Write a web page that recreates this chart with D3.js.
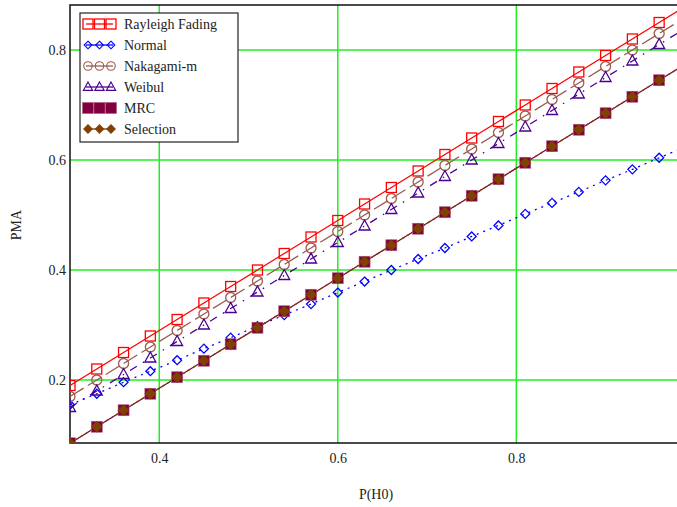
<!DOCTYPE html>
<html>
<head>
<meta charset="utf-8">
<script src="https://cdn.jsdelivr.net/npm/d3@7"></script>
<style>
  body { margin: 0; background: #fff; }
  svg { font-family: "Liberation Serif", "Times New Roman", serif; }
</style>
</head>
<body>
<div id="chart"></div>
<script>
// P(H0) values where points are plotted
const pH0 = [0.30, 0.33, 0.36, 0.39, 0.42, 0.45, 0.48, 0.51, 0.54, 0.57, 0.60, 0.63,
             0.66, 0.69, 0.72, 0.75, 0.78, 0.81, 0.84, 0.87, 0.90, 0.93, 0.96, 0.99];

const rayleigh = [0.19, 0.22, 0.25, 0.28, 0.31, 0.34, 0.37, 0.40, 0.43, 0.46, 0.49, 0.52,
                  0.55, 0.58, 0.61, 0.64, 0.67, 0.70, 0.73, 0.76, 0.79, 0.82, 0.85, 0.88];
const normal = [0.155, 0.175, 0.196, 0.216, 0.236, 0.257, 0.277, 0.298, 0.318, 0.338, 0.359, 0.379,
                0.400, 0.420, 0.440, 0.461, 0.481, 0.502, 0.522, 0.542, 0.563, 0.583, 0.604, 0.624];
const nakagami = [0.17, 0.20, 0.23, 0.26, 0.29, 0.32, 0.35, 0.38, 0.41, 0.44, 0.47, 0.50,
                  0.53, 0.56, 0.59, 0.62, 0.65, 0.68, 0.71, 0.74, 0.77, 0.80, 0.83, 0.86];
const weibul = [0.15, 0.18, 0.21, 0.24, 0.27, 0.30, 0.33, 0.36, 0.39, 0.42, 0.45, 0.48,
                0.51, 0.54, 0.57, 0.60, 0.63, 0.66, 0.69, 0.72, 0.75, 0.78, 0.81, 0.84];
const mrc = [0.085, 0.115, 0.145, 0.175, 0.205, 0.235, 0.265, 0.295, 0.325, 0.355, 0.385, 0.415,
             0.445, 0.475, 0.505, 0.535, 0.565, 0.595, 0.625, 0.655, 0.685, 0.715, 0.745, 0.775];
const selection = [0.085, 0.115, 0.145, 0.175, 0.205, 0.235, 0.265, 0.295, 0.325, 0.355, 0.385, 0.415,
                   0.445, 0.475, 0.505, 0.535, 0.565, 0.595, 0.625, 0.655, 0.685, 0.715, 0.745, 0.775];

const xTicks = [0.4, 0.6, 0.8];
const yTicks = [0.2, 0.4, 0.6, 0.8];

// series styling
const series = [
  { name: 'Rayleigh Fading', values: rayleigh, color: '#ff0000', dash: null, marker: 'square', fill: 'none' },
  { name: 'Normal', values: normal, color: '#0000ff', dash: '2,5', marker: 'diamond', fill: 'none' },
  { name: 'Nakagami-m', values: nakagami, color: '#9c5a50', dash: '16,5', marker: 'circle', fill: 'none' },
  { name: 'Weibul', values: weibul, color: '#4b0090', dash: '8,7,1.5,7', marker: 'triangle', fill: 'none' },
  { name: 'MRC', values: mrc, color: '#800040', dash: null, marker: 'bigsquare', fill: '#800040' },
  { name: 'Selection', values: selection, color: '#804000', dash: '3,3', marker: 'filldiamond', fill: '#804000' }
];

const W = 677, H = 507;
const plot = { left: 70, right: 677, top: 5, bottom: 443 };

const svg = d3.select('#chart').append('svg')
  .attr('width', W)
  .attr('height', H);

const x = d3.scaleLinear().domain([0.3, 0.98]).range([plot.left, plot.right]);
const y = d3.scaleLinear().domain([0.08545, 0.8818]).range([plot.bottom, plot.top]);

svg.append('clipPath').attr('id', 'clip')
  .append('rect')
  .attr('x', plot.left).attr('y', plot.top)
  .attr('width', plot.right - plot.left).attr('height', plot.bottom - plot.top);

// grid
const grid = svg.append('g');
grid.selectAll('.gx').data(xTicks).enter().append('line')
  .attr('x1', d => x(d)).attr('x2', d => x(d))
  .attr('y1', plot.top).attr('y2', plot.bottom)
  .attr('stroke', '#22ee22').attr('stroke-width', 1.5);
grid.selectAll('.gy').data(yTicks).enter().append('line')
  .attr('x1', plot.left).attr('x2', plot.right)
  .attr('y1', d => y(d)).attr('y2', d => y(d))
  .attr('stroke', '#22ee22').attr('stroke-width', 1.5);

// axes
const xAxis = d3.axisBottom(x).tickValues(xTicks).tickSize(0).tickPadding(10).tickFormat(d3.format('.1f'));
const yAxis = d3.axisLeft(y).tickValues(yTicks).tickSize(0).tickPadding(4).tickFormat(d3.format('.1f'));

const gx = svg.append('g').attr('transform', 'translate(0,' + plot.bottom + ')').call(xAxis);
const gy = svg.append('g').attr('transform', 'translate(' + plot.left + ',0)').call(yAxis);
[gx, gy].forEach(g => {
  g.select('.domain').remove();
  g.selectAll('text').attr('font-family', '"Liberation Serif", serif').attr('font-size', 14).attr('fill', '#222');
});

// frame (left, bottom, top)
svg.append('path')
  .attr('d', 'M' + plot.right + ',' + plot.top + 'H' + plot.left + 'V' + plot.bottom + 'H' + plot.right)
  .attr('fill', 'none').attr('stroke', '#111').attr('stroke-width', 1.5);

// axis titles
svg.append('text')
  .attr('x', 376).attr('y', 499)
  .attr('text-anchor', 'middle')
  .attr('font-size', 14).attr('fill', '#222')
  .text('P(H0)');
svg.append('text')
  .attr('transform', 'translate(21,225) rotate(-90)')
  .attr('text-anchor', 'middle')
  .attr('font-size', 14).attr('fill', '#222')
  .text('PMA');

// marker drawing
function drawMarker(sel, s) {
  if (s.marker === 'square') {
    sel.append('rect').attr('x', -5).attr('y', -5).attr('width', 10).attr('height', 10);
  } else if (s.marker === 'bigsquare') {
    sel.append('rect').attr('x', -5.5).attr('y', -5.5).attr('width', 11).attr('height', 11);
  } else if (s.marker === 'circle') {
    sel.append('circle').attr('r', 5);
  } else if (s.marker === 'diamond') {
    sel.append('path').attr('d', 'M0,-4.5L4.5,0L0,4.5L-4.5,0Z');
  } else if (s.marker === 'filldiamond') {
    sel.append('path').attr('d', 'M0,-5.5L5.5,0L0,5.5L-5.5,0Z');
  } else if (s.marker === 'triangle') {
    sel.append('path').attr('d', 'M0,-6L5.5,4L-5.5,4Z');
  }
  sel.selectAll('*')
    .attr('fill', s.fill)
    .attr('stroke', s.marker === 'bigsquare' ? '#b06080' : s.color)
    .attr('stroke-width', s.fill === 'none' ? 1.3 : 0.6);
}

const line = d3.line()
  .x((d, i) => x(pH0[i]))
  .y(d => y(d));

const plotG = svg.append('g').attr('clip-path', 'url(#clip)');

series.forEach(s => {
  plotG.append('path')
    .datum(s.values)
    .attr('d', line)
    .attr('fill', 'none')
    .attr('stroke', s.color)
    .attr('stroke-width', 1.3)
    .attr('stroke-dasharray', s.dash);
});

series.forEach(s => {
  plotG.selectAll(null)
    .data(s.values)
    .enter()
    .append('g')
    .attr('transform', (d, i) => 'translate(' + x(pH0[i]) + ',' + y(d) + ')')
    .each(function() { drawMarker(d3.select(this), s); });
});

// legend
const legend = svg.append('g');
legend.append('rect')
  .attr('x', 80).attr('y', 13)
  .attr('width', 158).attr('height', 129)
  .attr('fill', '#fff').attr('stroke', '#222').attr('stroke-width', 1.2);

series.forEach((s, i) => {
  const ly = 24 + i * 21;
  const row = legend.append('g');
  row.append('line')
    .attr('x1', 86).attr('x2', 113)
    .attr('y1', ly).attr('y2', ly)
    .attr('stroke', s.color).attr('stroke-width', 1.3);
  [88, 99.5, 111].forEach(mx => {
    const m = row.append('g').attr('transform', 'translate(' + mx + ',' + ly + ')');
    drawMarker(m, s);
    if (s.marker !== 'square' && s.marker !== 'bigsquare') {
      m.attr('transform', 'translate(' + mx + ',' + ly + ') scale(0.85)');
    }
  });
  row.append('text')
    .attr('x', 124).attr('y', ly + 5)
    .attr('font-size', 14).attr('fill', '#222')
    .text(s.name);
});
</script>
</body>
</html>
